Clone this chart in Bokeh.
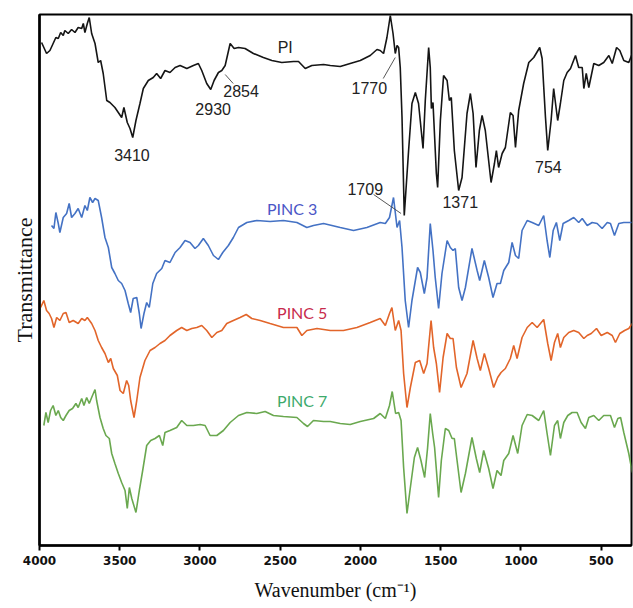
from bokeh.plotting import figure
from bokeh.models import Range1d, FixedTicker, ColumnDataSource
from bokeh.embed import file_html
from bokeh.resources import INLINE
from bokeh.core.properties import value

# ---------------- data (wavenumber in cm^-1, transmittance in arbitrary offset units) ----------------
pi_wn = [3987, 3956, 3935, 3915, 3898, 3883, 3868, 3852, 3842, 3821,
         3800, 3779, 3759, 3737, 3727, 3717, 3702, 3690, 3675, 3654,
         3634, 3619, 3603, 3581, 3561, 3530, 3509, 3488, 3474, 3453,
         3436, 3419, 3399, 3374, 3353, 3322, 3291, 3270, 3245, 3218,
         3187, 3155, 3124, 3082, 3041, 3010, 2989, 2958, 2933, 2912,
         2885, 2864, 2843, 2812, 2787, 2760, 2719, 2667, 2605, 2552,
         2490, 2417, 2386, 2344, 2303, 2230, 2188, 2126, 2064, 2001,
         1939, 1897, 1877, 1856, 1835, 1814, 1797, 1783, 1772, 1762,
         1752, 1741, 1727, 1700, 1679, 1658, 1638, 1610, 1596, 1575,
         1565, 1558, 1548, 1527, 1519, 1502, 1482, 1460, 1446, 1434,
         1415, 1388, 1367, 1336, 1315, 1298, 1280, 1259, 1242, 1222,
         1186, 1165, 1153, 1139, 1117, 1097, 1066, 1049, 1034, 1014,
         983, 951, 920, 883, 868, 847, 833, 812, 796, 771,
         754, 733, 712, 691, 660, 640, 618, 608, 593, 577,
         546, 515, 484, 452, 431, 404, 384, 359, 328, 306]
pi_t = [503, 492, 495, 502, 508, 507, 513, 510, 515, 512,
        516, 513, 518, 517, 522, 513, 522, 528, 512, 502,
        483, 485, 472, 445, 443, 438, 433, 428, 438, 423,
        417, 408, 425, 442, 457, 465, 468, 472, 467, 475,
        473, 478, 480, 477, 480, 482, 475, 462, 456, 465,
        473, 475, 480, 502, 497, 498, 497, 492, 488, 485,
        483, 484, 484, 477, 480, 481, 480, 479, 482, 485,
        490, 496, 495, 492, 508, 530, 512, 492, 500, 498,
        478, 428, 330, 395, 442, 453, 442, 397, 445, 498,
        478, 437, 443, 372, 358, 425, 470, 465, 445, 448,
        395, 355, 368, 432, 452, 432, 378, 415, 430, 415,
        363, 382, 395, 378, 392, 398, 433, 430, 398, 435,
        462, 483, 488, 498, 487, 428, 395, 425, 457, 425,
        442, 465, 473, 477, 490, 478, 478, 457, 472, 458,
        482, 480, 483, 490, 482, 498, 495, 485, 483, 492]

pinc3_wn = [3925, 3910, 3898, 3883, 3873, 3852, 3831, 3815, 3800, 3779,
            3759, 3737, 3717, 3702, 3686, 3669, 3654, 3634, 3613, 3592,
            3571, 3550, 3530, 3509, 3488, 3467, 3447, 3432, 3416, 3394,
            3378, 3367, 3349, 3332, 3316, 3294, 3270, 3238, 3218, 3187,
            3155, 3124, 3093, 3062, 3031, 3010, 2979, 2948, 2916, 2885,
            2858, 2823, 2792, 2760, 2708, 2646, 2563, 2480, 2396, 2334,
            2293, 2230, 2126, 2043, 1960, 1877, 1845, 1819, 1794, 1772,
            1756, 1741, 1721, 1700, 1679, 1644, 1627, 1602, 1585, 1565,
            1548, 1534, 1513, 1492, 1460, 1440, 1423, 1409, 1388, 1367,
            1346, 1305, 1273, 1257, 1228, 1201, 1174, 1149, 1128, 1107,
            1076, 1055, 1034, 1014, 993, 961, 930, 889, 858, 837,
            820, 799, 779, 758, 737, 702, 671, 640, 618, 587,
            556, 525, 494, 462, 442, 417, 390, 359, 306]
pinc3_t = [320, 317, 333, 322, 313, 328, 332, 342, 328, 332,
           337, 328, 340, 335, 348, 343, 347, 345, 328, 308,
           298, 278, 272, 265, 262, 255, 242, 233, 247, 248,
           232, 217, 232, 243, 238, 262, 272, 277, 285, 283,
           293, 298, 305, 303, 297, 300, 307, 300, 290, 286,
           293, 300, 308, 318, 323, 325, 324, 325, 323, 318,
           320, 322, 318, 315, 318, 323, 322, 328, 348, 318,
           325, 298, 245, 218, 245, 278, 273, 252, 268, 322,
           295, 268, 237, 272, 305, 298, 295, 297, 258, 245,
           258, 297, 275, 265, 285, 268, 248, 262, 262, 275,
           283, 303, 290, 287, 315, 325, 323, 320, 330, 305,
           288, 315, 323, 305, 322, 325, 328, 323, 327, 320,
           323, 322, 317, 323, 322, 310, 322, 323, 323]

pinc5_wn = [3993, 3973, 3956, 3940, 3925, 3910, 3893, 3873, 3852, 3835,
            3815, 3790, 3759, 3737, 3717, 3702, 3675, 3654, 3634, 3613,
            3592, 3571, 3556, 3540, 3515, 3498, 3478, 3457, 3444, 3432,
            3411, 3394, 3374, 3343, 3311, 3280, 3249, 3218, 3187, 3145,
            3114, 3082, 3051, 3020, 2989, 2958, 2926, 2895, 2864, 2833,
            2792, 2750, 2712, 2677, 2625, 2563, 2480, 2396, 2365, 2334,
            2271, 2188, 2106, 2022, 1939, 1877, 1845, 1819, 1804, 1783,
            1762, 1747, 1731, 1710, 1689, 1658, 1631, 1606, 1585, 1560,
            1544, 1527, 1507, 1485, 1460, 1440, 1423, 1402, 1373, 1336,
            1298, 1273, 1253, 1228, 1201, 1170, 1145, 1124, 1097, 1066,
            1045, 1024, 993, 961, 930, 899, 858, 833, 812, 791,
            771, 754, 733, 702, 671, 640, 608, 587, 562, 529,
            500, 462, 431, 411, 384, 354, 328, 306]
pinc5_t = [238, 245, 235, 232, 227, 218, 228, 225, 232, 233,
           223, 225, 222, 227, 225, 228, 222, 215, 205, 198,
           192, 183, 187, 177, 170, 155, 152, 165, 160, 145,
           128, 145, 168, 185, 195, 198, 202, 205, 210, 215,
           218, 215, 217, 218, 220, 215, 208, 213, 215, 222,
           225, 228, 231, 227, 225, 222, 218, 218, 210, 215,
           217, 215, 215, 218, 223, 227, 220, 232, 238, 215,
           225, 215, 172, 138, 158, 183, 185, 172, 182, 225,
           198, 182, 153, 188, 212, 207, 207, 178, 158, 172,
           205, 187, 175, 192, 177, 158, 168, 173, 177, 187,
           200, 187, 208, 218, 223, 218, 226, 202, 185, 203,
           212, 198, 208, 213, 215, 213, 207, 210, 212, 217,
           210, 213, 210, 203, 212, 215, 217, 222]

pinc7_wn = [3973, 3960, 3946, 3931, 3915, 3898, 3883, 3868, 3852, 3835,
            3815, 3794, 3773, 3759, 3737, 3723, 3706, 3690, 3675, 3654,
            3644, 3623, 3603, 3586, 3565, 3550, 3530, 3509, 3488, 3467,
            3453, 3440, 3425, 3399, 3378, 3357, 3332, 3307, 3280, 3253,
            3232, 3218, 3187, 3145, 3114, 3082, 3041, 2999, 2968, 2937,
            2895, 2854, 2812, 2760, 2708, 2646, 2594, 2542, 2480, 2396,
            2355, 2330, 2293, 2230, 2188, 2126, 2064, 2001, 1918, 1877,
            1845, 1819, 1802, 1781, 1762, 1747, 1731, 1710, 1689, 1664,
            1644, 1623, 1600, 1582, 1565, 1550, 1538, 1513, 1496, 1471,
            1450, 1429, 1415, 1398, 1373, 1346, 1305, 1278, 1257, 1232,
            1201, 1174, 1149, 1124, 1107, 1076, 1049, 1020, 993, 961,
            930, 889, 858, 837, 816, 791, 771, 754, 733, 708,
            681, 650, 625, 598, 577, 546, 515, 484, 442, 417,
            396, 379, 359, 328, 306]
pinc7_t = [120, 133, 123, 135, 140, 130, 135, 128, 125, 130,
           135, 137, 142, 138, 147, 140, 148, 142, 148, 156,
           145, 128, 117, 110, 107, 92, 82, 72, 63, 55,
           37, 58, 47, 33, 55, 75, 100, 105, 107, 110,
           100, 113, 115, 118, 125, 120, 120, 121, 120, 110,
           110, 115, 123, 130, 133, 132, 134, 130, 129, 128,
           122, 119, 125, 124, 124, 122, 121, 124, 127, 132,
           127, 140, 154, 132, 133, 125, 78, 32, 58, 88,
           98, 85, 68, 97, 132, 112, 98, 48, 85, 117,
           115, 107, 107, 85, 53, 72, 108, 87, 73, 95,
           77, 57, 75, 70, 85, 92, 110, 92, 120, 131,
           130, 125, 135, 112, 90, 120, 125, 107, 123, 130,
           133, 133, 123, 117, 128, 130, 125, 130, 130, 118,
           127, 128, 113, 92, 73]

x_ticks = [4000, 3500, 3000, 2500, 2000, 1500, 1000, 500]

# peak annotations
peak_text = ["PI", "3410", "2930", "2854", "1770", "1709", "1371", "754"]
peak_x = [2469, 3424, 2918, 2744, 1945, 1970, 1378, 829]
peak_y = [498, 391, 437, 455, 458, 357, 344, 379]

# leader lines (label -> band)
lead_x0 = [2843, 1858, 1918]
lead_y0 = [471, 467, 351]
lead_x1 = [2793, 1783, 1747]
lead_y1 = [462, 488, 332]

# series name labels
name_text = ["PINC 3", "PINC 5", "PINC 7"]
name_x = [2426, 2363, 2363]
name_y = [337, 233, 145]
name_color = ["#4b56c6", "#c72a4c", "#3daa6c"]

# ---------------- figure ----------------
p = figure(width=633, height=606, output_backend="svg", toolbar_location=None,
           x_range=Range1d(4000, 311), y_range=Range1d(0, 531),
           min_border_left=39, min_border_right=2, min_border_top=14,
           min_border_bottom=61)
p.background_fill_color = "white"
p.border_fill_color = "white"
p.grid.visible = False
p.outline_line_color = "black"
p.outline_line_width = 2

xa = p.xaxis[0]
xa.ticker = FixedTicker(ticks=x_ticks)
xa.major_label_text_font = "DejaVu Sans"
xa.major_label_text_font_style = "bold"
xa.major_label_text_font_size = "12px"
xa.major_label_text_color = "#111111"
xa.major_label_standoff = 5
xa.major_tick_in = 0
xa.major_tick_out = 5
xa.major_tick_line_width = 2
xa.minor_tick_line_color = None
xa.axis_line_width = 2.5
xa.axis_label = "Wavenumber (cm\u207b\u00b9)"
xa.axis_label_text_font = "Liberation Serif"
xa.axis_label_text_font_style = "normal"
xa.axis_label_text_font_size = "20px"
xa.axis_label_text_color = "#111111"
xa.axis_label_standoff = 11

ya = p.yaxis[0]
ya.ticker = FixedTicker(ticks=[])
ya.major_tick_line_color = None
ya.minor_tick_line_color = None
ya.axis_line_width = 2.5
ya.axis_label = "Transmittance"
ya.axis_label_text_font = "Liberation Serif"
ya.axis_label_text_font_style = "normal"
ya.axis_label_text_font_size = "22px"
ya.axis_label_text_color = "#111111"
ya.axis_label_standoff = 3

p.line(pi_wn, pi_t, line_color="#151515", line_width=1.6)
p.line(pinc3_wn, pinc3_t, line_color="#4472c4", line_width=1.6)
p.line(pinc5_wn, pinc5_t, line_color="#e2652a", line_width=1.6)
p.line(pinc7_wn, pinc7_t, line_color="#6aa84f", line_width=1.6)

p.segment(x0=lead_x0, y0=lead_y0, x1=lead_x1, y1=lead_y1,
          line_color="#444444", line_width=0.9)

peak_src = ColumnDataSource(dict(x=peak_x, y=peak_y, t=peak_text))
p.text(x="x", y="y", text="t", source=peak_src,
       text_font=value("Liberation Sans"), text_font_size="16px",
       text_color="#222222", text_align="center", text_baseline="middle")

name_src = ColumnDataSource(dict(x=name_x, y=name_y, t=name_text, c=name_color))
p.text(x="x", y="y", text="t", source=name_src, text_color="c",
       text_font=value("Lato"), text_font_size="16px",
       text_align="center", text_baseline="middle")

open("out.html", "w").write(file_html(p, INLINE))
